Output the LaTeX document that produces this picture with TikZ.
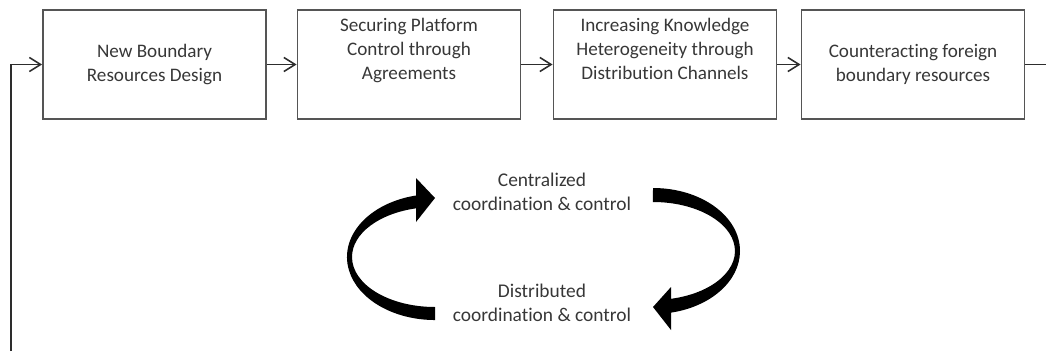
\documentclass[tikz,border=0pt]{standalone}
\usepackage{fontspec}
\setmainfont{Carlito}[Ligatures=NoCommon]
\usepackage{xcolor}
\usepackage{tikz}
\usetikzlibrary{arrows.meta, positioning}
\definecolor{boxline}{RGB}{85, 85, 85}
\definecolor{textgray}{RGB}{55, 55, 55}
\definecolor{linkcolor}{RGB}{45, 45, 45}

\begin{document}
\begin{tikzpicture}[
    x=0.025cm, y=0.025cm,
    phase/.style={draw=boxline, line width=1.3pt, minimum width=5.575cm, minimum height=2.725cm, inner sep=0pt, align=center, text=textgray, font=\fontsize{13.6}{17.3}\selectfont},
    mode/.style={align=center, text=textgray, font=\fontsize{13.8}{17.5}\selectfont},
    link/.style={draw=linkcolor, line width=1.1pt, -{Straight Barb[length=8pt, width=10pt]}},
    swirl/.style={fill=black}
]
    \useasboundingbox (0,0) rectangle (1046,351);

    % Phases
    \node[phase] (design) at (154.5, 286.5) {New Boundary\\Resources Design};
    \node[phase] (platform) at (409, 286.5) {Securing Platform\\Control through\\Agreements\\\strut};
    \node[phase] (knowledge) at (665, 286.5) {Increasing Knowledge\\Heterogeneity through\\Distribution Channels\\\strut};
    \node[phase] (counter) at (913, 286.5) {Counteracting foreign\\boundary resources};

    % Flow arrows
    \draw[link] (design) -- (platform);
    \draw[link] (platform) -- (knowledge);
    \draw[link] (knowledge) -- (counter);

    % Feedback loop
    \coordinate (loopstart) at (11, 0);
    \coordinate (loopend) at (1046, 286.5);
    \draw[link] (loopstart) |- (design.west);
    \draw[draw=linkcolor, line width=1.1pt] (counter) -- (loopend);

    % Coordination modes
    \node[mode] (central) at (542, 159) {Centralized\\coordination \& control};
    \node[mode] (distrib) at (542, 48) {Distributed\\coordination \& control};

    % Circular arrows
    \fill[swirl] (416.7, 155.6) arc[start angle=102, end angle=270, x radius=88, y radius=63]
        -- (435, 44) arc[start angle=270, end angle=102, x radius=83, y radius=50] -- cycle;
    \fill[swirl] (416, 173) -- (435, 153) -- (416, 129) -- cycle;

    \fill[swirl] (653, 163) arc[start angle=90, end angle=-79, x radius=87, y radius=63]
        -- (668.6, 51.9) arc[start angle=-79, end angle=90, x radius=82, y radius=49] -- cycle;
    \fill[swirl] (671, 64) -- (653, 44) -- (671, 21) -- cycle;

\end{tikzpicture}
\end{document}
